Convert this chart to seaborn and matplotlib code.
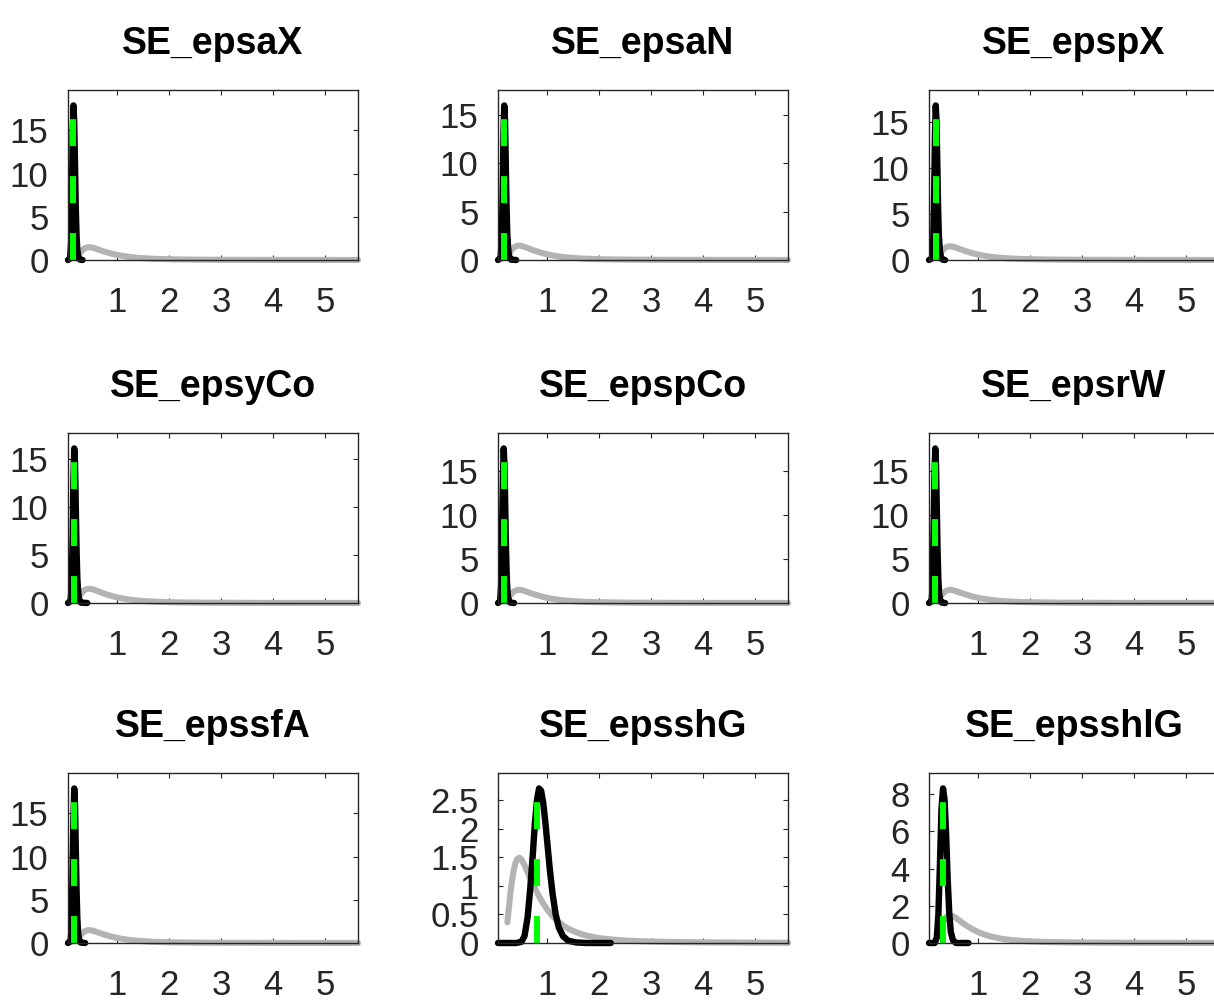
import matplotlib
matplotlib.use("Agg")
import matplotlib.pyplot as plt
import seaborn as sns

# ---------------- data ----------------
titles = ["SE_epsaX", "SE_epsaN", "SE_epspX",
          "SE_epsyCo", "SE_epspCo", "SE_epsrW",
          "SE_epssfA", "SE_epsshG", "SE_epsshlG"]

# prior density (same in every panel)
prior_x = [0.23, 0.26, 0.29, 0.32, 0.35, 0.38, 0.42, 0.46, 0.50, 0.55, 0.60, 0.66,
           0.72, 0.78, 0.85, 0.92, 1.00, 1.10, 1.20, 1.30, 1.40, 1.52, 1.65, 1.80,
           2.00, 2.25, 2.50, 2.80, 3.20, 3.70, 4.30, 5.00, 5.63]
prior_y = [0.36, 0.62, 0.88, 1.09, 1.26, 1.38, 1.47, 1.49, 1.46, 1.38, 1.28, 1.15,
           1.03, 0.92, 0.80, 0.69, 0.58, 0.47, 0.38, 0.31, 0.25, 0.20, 0.155, 0.12,
           0.085, 0.06, 0.043, 0.031, 0.021, 0.014, 0.009, 0.006, 0.004]

# posterior densities
post_x_epsaX = [0.05, 0.09, 0.11, 0.125, 0.14, 0.155, 0.17, 0.185, 0.20, 0.215, 0.23, 0.25, 0.28, 0.33]
post_y_epsaX = [0, 0.2, 2.0, 7.5, 14.5, 17.9, 16.0, 11.0, 6.0, 2.8, 1.1, 0.3, 0.05, 0]

post_x_epsaN = [0.05, 0.10, 0.12, 0.14, 0.155, 0.17, 0.185, 0.20, 0.215, 0.23, 0.25, 0.27, 0.30, 0.40]
post_y_epsaN = [0, 0.2, 1.8, 7.0, 13.0, 16.0, 14.5, 10.0, 5.5, 2.5, 0.9, 0.25, 0.04, 0]

post_x_epspX = [0.05, 0.11, 0.13, 0.15, 0.165, 0.18, 0.195, 0.21, 0.225, 0.24, 0.26, 0.28, 0.31, 0.36]
post_y_epspX = [0, 0.2, 1.9, 7.3, 13.7, 16.8, 15.0, 10.4, 5.7, 2.6, 1.0, 0.28, 0.05, 0]

post_x_epsyCo = [0.05, 0.10, 0.12, 0.14, 0.155, 0.17, 0.185, 0.20, 0.215, 0.23, 0.25, 0.27, 0.30, 0.42]
post_y_epsyCo = [0, 0.2, 1.8, 7.0, 13.1, 16.1, 14.6, 10.1, 5.5, 2.5, 0.9, 0.25, 0.04, 0]

post_x_epspCo = [0.05, 0.09, 0.11, 0.125, 0.145, 0.16, 0.175, 0.19, 0.205, 0.22, 0.235, 0.255, 0.285, 0.36]
post_y_epspCo = [0, 0.2, 1.9, 7.3, 14.2, 17.5, 15.6, 10.8, 5.9, 2.7, 1.1, 0.3, 0.05, 0]

post_x_epsrW = [0.05, 0.10, 0.12, 0.135, 0.155, 0.17, 0.185, 0.20, 0.215, 0.23, 0.245, 0.265, 0.295, 0.36]
post_y_epsrW = [0, 0.2, 1.9, 7.3, 14.2, 17.5, 15.6, 10.8, 5.9, 2.7, 1.1, 0.3, 0.05, 0]

post_x_epssfA = [0.05, 0.10, 0.12, 0.135, 0.155, 0.17, 0.185, 0.20, 0.215, 0.23, 0.245, 0.265, 0.295, 0.38]
post_y_epssfA = [0, 0.2, 2.0, 7.5, 14.5, 17.9, 16.0, 11.0, 6.0, 2.8, 1.1, 0.3, 0.05, 0]

post_x_epsshG = [0.05, 0.40, 0.50, 0.56, 0.62, 0.67, 0.72, 0.76, 0.80, 0.84, 0.88, 0.92,
                 0.96, 1.00, 1.05, 1.10, 1.16, 1.22, 1.30, 1.40, 1.55, 1.75, 2.22]
post_y_epsshG = [0, 0, 0.02, 0.12, 0.45, 0.95, 1.55, 2.10, 2.50, 2.70, 2.66, 2.45,
                 2.12, 1.74, 1.26, 0.86, 0.50, 0.27, 0.12, 0.04, 0.01, 0, 0]

post_x_epsshlG = [0.05, 0.16, 0.20, 0.23, 0.26, 0.29, 0.32, 0.35, 0.38, 0.41, 0.44, 0.47, 0.51, 0.57, 0.81]
post_y_epsshlG = [0, 0, 0.3, 1.5, 4.2, 7.2, 8.3, 7.7, 5.8, 3.4, 1.6, 0.6, 0.15, 0, 0]

# posterior mode (green dashed line) and its height
mode_x = [0.155, 0.17, 0.18, 0.17, 0.16, 0.17, 0.17, 0.80, 0.315]
mode_h = [17.9, 16.0, 16.8, 16.1, 17.5, 17.5, 17.9, 2.50, 8.2]

# tick values / labels
x_ticks = [1, 2, 3, 4, 5]
y_ticks_big = [0, 5, 10, 15]
y_ticks_shG = [0, 0.5, 1, 1.5, 2, 2.5]
y_labels_shG = ["0", "0.5", "1", "1.5", "2", "2.5"]
y_ticks_shlG = [0, 2, 4, 6, 8]

post_x = [post_x_epsaX, post_x_epsaN, post_x_epspX, post_x_epsyCo, post_x_epspCo,
          post_x_epsrW, post_x_epssfA, post_x_epsshG, post_x_epsshlG]
post_y = [post_y_epsaX, post_y_epsaN, post_y_epspX, post_y_epsyCo, post_y_epspCo,
          post_y_epsrW, post_y_epssfA, post_y_epsshG, post_y_epsshlG]
y_ticks = [y_ticks_big] * 7 + [y_ticks_shG, y_ticks_shlG]
y_labels = [[str(v) for v in y_ticks_big]] * 7 + [y_labels_shG, [str(v) for v in y_ticks_shlG]]

# ---------------- style ----------------
sns.set_theme(style="white")
plt.rcParams["font.family"] = ["Liberation Sans", "DejaVu Sans"]
plt.rcParams["lines.scale_dashes"] = False

W, H = 1214, 1001
fig = plt.figure(figsize=(W / 100, H / 100), dpi=100)
fig.patch.set_facecolor("white")

lefts = [68, 498, 929]
tops = [90, 433, 773]
aw, ah = 290, 170

axis_col = "#262626"
gray = "#b3b3b3"
green = "#00ff00"

for i, name in enumerate(titles):
    r, c = divmod(i, 3)
    ax = fig.add_axes([lefts[c] / W, 1 - (tops[r] + ah) / H, aw / W, ah / H])
    ax.set_facecolor("white")

    sns.lineplot(x=prior_x, y=prior_y, ax=ax, color=gray, linewidth=4.4,
                 estimator=None, sort=False, solid_capstyle="round", clip_on=False)
    sns.lineplot(x=post_x[i], y=post_y[i], ax=ax, color="black", linewidth=4.6,
                 estimator=None, sort=False, solid_capstyle="round",
                 solid_joinstyle="round", clip_on=False)
    sns.lineplot(x=[mode_x[i], mode_x[i]], y=[0, mode_h[i]], ax=ax, color=green,
                 linewidth=4.3, estimator=None, sort=False, clip_on=False)
    gl = ax.lines[-1]
    gl.set_linestyle((0, (19.4, 21.6)))
    gl.set_dash_capstyle("butt")

    xmin = min(post_x[i][0], prior_x[0])
    xmax = max(post_x[i][-1], prior_x[-1])
    ax.set_xlim(xmin, xmax)
    ax.set_ylim(0, 1.1 * max(max(post_y[i]), max(prior_y)))

    ax.set_xticks(x_ticks)
    ax.set_xticklabels([str(v) for v in x_ticks])
    ax.set_yticks(y_ticks[i])
    ax.set_yticklabels(y_labels[i])

    ax.tick_params(axis="both", direction="in", top=True, right=True, bottom=True, left=True,
                   length=3.5, width=0.8, color=axis_col, labelcolor=axis_col, labelsize=25)
    ax.tick_params(axis="x", pad=19)
    ax.tick_params(axis="y", pad=14)
    for sp in ax.spines.values():
        sp.set_visible(True)
        sp.set_color(axis_col)
        sp.set_linewidth(1.0)

    ax.set_xlabel("")
    ax.set_ylabel("")
    ax.set_title(name, fontsize=27, fontweight="bold", pad=26, color="black")

fig.savefig("out.png", dpi=100, facecolor="white")
